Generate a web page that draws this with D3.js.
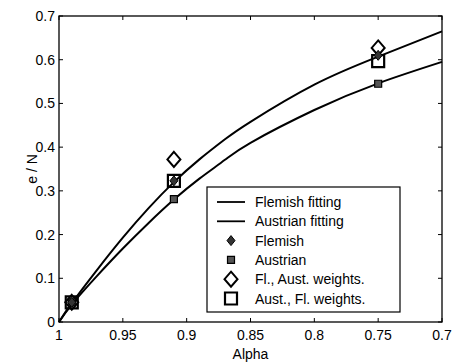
<!DOCTYPE html>
<html><head><meta charset="utf-8">
<script src="https://cdn.jsdelivr.net/npm/d3@7"></script>
<style>body{margin:0;background:#fff}svg{display:block}text{font-family:"Liberation Sans",Arial,sans-serif;fill:#000}</style>
</head><body>
<svg id="c" width="455" height="363"></svg>
<script>
// Data
const fitAlpha = [1, 0.99, 0.97, 0.95, 0.93, 0.91, 0.89, 0.87, 0.85, 0.80, 0.75, 0.70];
const flemishFit = [0, 0.043, 0.120, 0.193, 0.260, 0.320, 0.372, 0.418, 0.458, 0.543, 0.607, 0.665];
const austrianFit = [0, 0.040, 0.106, 0.168, 0.226, 0.280, 0.328, 0.371, 0.410, 0.485, 0.546, 0.595];
const ptAlpha = [0.99, 0.91, 0.75];
const flemishPts = [0.045, 0.323, 0.610];
const austrianPts = [0.045, 0.281, 0.545];
const flAustW = [0.045, 0.372, 0.627];
const austFlW = [0.045, 0.323, 0.597];
const xTicks = [1, 0.95, 0.9, 0.85, 0.8, 0.75, 0.7];
const xTickLabels = ["1", "0.95", "0.9", "0.85", "0.8", "0.75", "0.7"];
const yTicks = [0, 0.1, 0.2, 0.3, 0.4, 0.5, 0.6, 0.7];
const yTickLabels = ["0", "0.1", "0.2", "0.3", "0.4", "0.5", "0.6", "0.7"];
const legendLabels = ["Flemish fitting", "Austrian fitting", "Flemish", "Austrian", "Fl., Aust. weights.", "Aust., Fl. weights."];

const svg = d3.select("#c");
const L = 59, R = 442, T = 16, B = 322;
const x = d3.scaleLinear().domain([1, 0.7]).range([L, R]);
const y = d3.scaleLinear().domain([0, 0.7]).range([B, T]);

const diamond = (hw, hh) => `M0,${-hh}L${hw},0L0,${hh}L${-hw},0Z`;
const square = (h) => `M${-h},${-h}H${h}V${h}H${-h}Z`;

const line = d3.line().x(d => x(d[0])).y(d => y(d[1])).curve(d3.curveNatural);
[flemishFit, austrianFit].forEach(s => {
  svg.append("path").attr("d", line(fitAlpha.map((a, i) => [a, s[i]])))
    .attr("fill", "none").attr("stroke", "#000").attr("stroke-width", 2);
});

// markers
const g = svg.append("g");
function marks(vals, dstr, fill, sw) {
  g.selectAll(null).data(ptAlpha.map((a, i) => [a, vals[i]])).enter().append("path")
    .attr("transform", d => `translate(${x(d[0])},${y(d[1])})`)
    .attr("d", dstr).attr("fill", fill).attr("stroke", "#000").attr("stroke-width", sw);
}
marks(flAustW, diamond(6.5, 7.5), "none", 2);
marks(austFlW, square(6), "none", 2.2);
marks(austrianPts, square(3.5), "#555", 1.2);
marks(flemishPts, diamond(4, 5), "#333", 1);

// axes box
const ax = svg.append("g");
ax.append("rect").attr("x", L).attr("y", T).attr("width", R - L).attr("height", B - T)
  .attr("fill", "none").attr("stroke", "#000").attr("stroke-width", 1.3);
xTicks.forEach((t, i) => {
  const px = x(t);
  ax.append("line").attr("x1", px).attr("x2", px).attr("y1", B).attr("y2", B - 4).attr("stroke", "#000");
  ax.append("line").attr("x1", px).attr("x2", px).attr("y1", T).attr("y2", T + 4).attr("stroke", "#000");
  ax.append("text").attr("x", px).attr("y", B + 18).attr("text-anchor", "middle").attr("font-size", 14).text(xTickLabels[i]);
});
yTicks.forEach((t, i) => {
  const py = y(t);
  ax.append("line").attr("x1", L).attr("x2", L + 4).attr("y1", py).attr("y2", py).attr("stroke", "#000");
  ax.append("line").attr("x1", R).attr("x2", R - 4).attr("y1", py).attr("y2", py).attr("stroke", "#000");
  ax.append("text").attr("x", L - 4).attr("y", py + 5).attr("text-anchor", "end").attr("font-size", 14).text(yTickLabels[i]);
});
svg.append("text").attr("x", (L + R) / 2).attr("y", 359).attr("text-anchor", "middle").attr("font-size", 14).text("Alpha");
svg.append("text").attr("transform", `translate(37,${(T + B) / 2}) rotate(-90)`).attr("text-anchor", "middle").attr("font-size", 14).text("e / N");

// legend
const lg = svg.append("g");
lg.append("rect").attr("x", 207).attr("y", 187).attr("width", 193).attr("height", 125)
  .attr("fill", "#fff").attr("stroke", "#000").attr("stroke-width", 1.2);
const ly0 = 202, ldy = 19.3;
legendLabels.forEach((lab, i) => {
  const cy = ly0 + i * ldy;
  if (i < 2) {
    lg.append("line").attr("x1", 217).attr("x2", 245).attr("y1", cy).attr("y2", cy).attr("stroke", "#000").attr("stroke-width", 1.8);
  } else {
    const ds = [diamond(4, 5), square(3.5), diamond(6.5, 7.5), square(6)][i - 2];
    const fl = ["#333", "#555", "none", "none"][i - 2];
    const sw = [1, 1.2, 2, 2.2][i - 2];
    lg.append("path").attr("transform", `translate(231,${cy})`).attr("d", ds).attr("fill", fl).attr("stroke", "#000").attr("stroke-width", sw);
  }
  lg.append("text").attr("x", 255).attr("y", cy + 5).attr("font-size", 14).text(lab);
});
</script>
</body></html>
